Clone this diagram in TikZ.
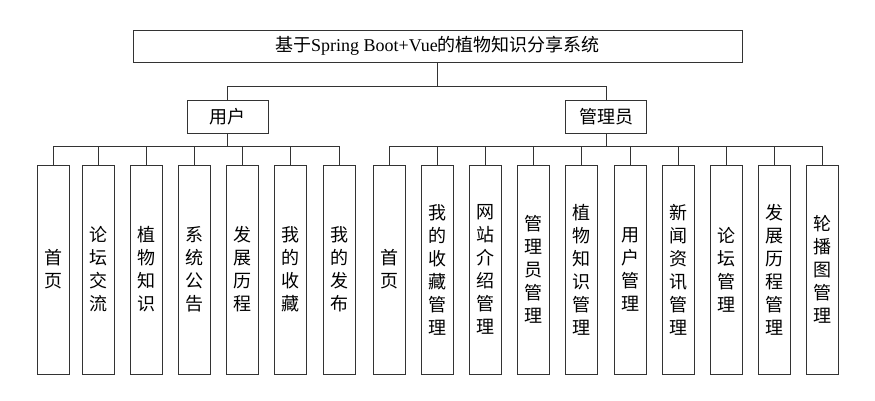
\documentclass[tikz,border=0pt]{standalone}
\usepackage{fontspec}
\setmainfont{Liberation Serif}
\newfontfamily\cjk{Noto Sans CJK SC}
\usetikzlibrary{positioning}
\pgfdeclareverticalshading{boxshade}{100bp}{color(0bp)=(black!35); color(22bp)=(white); color(100bp)=(white)}
\tikzset{every picture/.style={line width=0.75pt}}
\tikzset{
  box/.style={draw=black!80, line width=1pt, shade, shading=boxshade, inner sep=0pt},
  leaf/.style={box, minimum width=32pt, minimum height=209pt, align=center, text width=32pt, font=\cjk\fontsize{18}{23}\selectfont},
  head/.style={box, minimum width=81pt, minimum height=33pt, font=\cjk\fontsize{18}{20}\selectfont},
  link/.style={draw=black!80, line width=0.9pt}
}
\begin{document}
\begin{tikzpicture}[x=1pt,y=1pt,yscale=-1]
	\useasboundingbox (0,0) rectangle (875,400);

	% title and second level
	\node [box, minimum width=609pt, minimum height=32pt, font=\fontsize{18}{20}\selectfont] (sys) at (437.5,46) {{\cjk 基于}Spring Boot+Vue{\cjk 的植物知识分享系统}};
	\node [head] (user) at (227.5,116.5) {用户};
	\node [head] (admin) at (606,116.5) {管理员};

	\draw [link] (sys.south) -- (437.5,86) -| (user.north);
	\draw [link] (437.5,86) -| (admin.north);

	% user leaves
	\foreach \n/\x/\t in {u1/53/{首\\页}, u2/98/{论\\坛\\交\\流}, u3/146/{植\\物\\知\\识}, u4/194/{系\\统\\公\\告}, u5/242/{发\\展\\历\\程}, u6/290/{我\\的\\收\\藏}, u7/339/{我\\的\\发\\布}}{
		\node [leaf] (\n) at (\x,269.5) {\t};
		\draw [link] (user.south) -- (227.5,146) -| (\n.north);
	}

	% admin leaves
	\foreach \n/\x/\t in {a1/389/{首\\页}, a2/437/{我\\的\\收\\藏\\管\\理}, a3/485/{网\\站\\介\\绍\\管\\理}, a4/533/{管\\理\\员\\管\\理}, a5/581/{植\\物\\知\\识\\管\\理}, a6/630/{用\\户\\管\\理}, a7/678/{新\\闻\\资\\讯\\管\\理}, a8/726/{论\\坛\\管\\理}, a9/774/{发\\展\\历\\程\\管\\理}, a10/822/{轮\\播\\图\\管\\理}}{
		\node [leaf] (\n) at (\x,269.5) {\t};
		\draw [link] (admin.south) -- (606,146) -| (\n.north);
	}

\end{tikzpicture}
\end{document}
